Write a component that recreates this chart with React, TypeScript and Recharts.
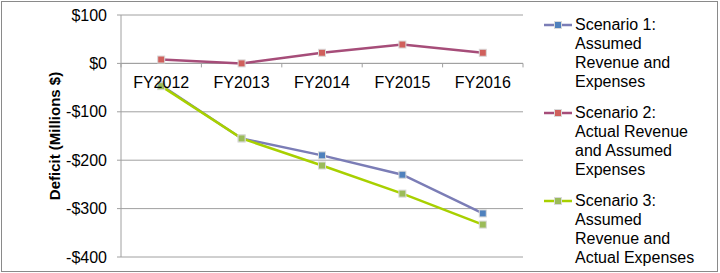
import React from 'react';
import {
  LineChart,
  Line,
  XAxis,
  YAxis,
  CartesianGrid,
  ReferenceLine,
  Legend,
  Label,
} from 'recharts';

const years = ['FY2012', 'FY2013', 'FY2014', 'FY2015', 'FY2016'];
const scenario1 = [-45, -155, -190, -230, -310];
const scenario2 = [8, 0, 22, 39, 22];
const scenario3 = [-47, -155, -211, -269, -333];
const yTicks = [-400, -300, -200, -100, 0, 100];

const legendLines = [
  ['Scenario 1:', 'Assumed', 'Revenue and', 'Expenses'],
  ['Scenario 2:', 'Actual Revenue', 'and Assumed', 'Expenses'],
  ['Scenario 3:', 'Assumed', 'Revenue and', 'Actual Expenses'],
];

const SERIES = [
  { key: 's1', line: '#7b7db6', marker: '#4f81bd' },
  { key: 's2', line: '#a64d79', marker: '#d0605c' },
  { key: 's3', line: '#a8d000', marker: '#9bbb59' },
];

const data = years.map((year, i) => ({
  year,
  s1: scenario1[i],
  s2: scenario2[i],
  s3: scenario3[i],
}));

const W = 720;
const H = 273;
const X_H = 16;
const M = { top: 15, right: 197, bottom: 0, left: 0 };
const Y_W = 121;
const PLOT_W = W - M.left - Y_W - M.right;
const PLOT_H = H - M.top - M.bottom - X_H;
const HALF = PLOT_W / years.length / 2;
const Y_MIN = -400;
const Y_MAX = 100;
const ZERO_Y = M.top + (PLOT_H * Y_MAX) / (Y_MAX - Y_MIN);
const AXIS = '#a0a0a0';
const FONT = '"Liberation Sans", Arial, sans-serif';

const money = (v: number) => (v < 0 ? `-$${-v}` : `$${v}`);

const CategoryTick = (props: any) => {
  const { x, payload, index } = props;
  const last = index === years.length - 1;
  return (
    <g>
      <line x1={x - HALF} y1={ZERO_Y} x2={x - HALF} y2={ZERO_Y + 4} stroke={AXIS} />
      {last && <line x1={x + HALF} y1={ZERO_Y} x2={x + HALF} y2={ZERO_Y + 4} stroke={AXIS} />}
      <text x={x} y={ZERO_Y + 25} textAnchor="middle" fontSize={16} fill="#000">
        {payload.value}
      </text>
    </g>
  );
};

const squareDot = (color: string) => (p: any) => (
  <rect
    key={`dot-${p.index}`}
    x={p.cx - 3.5}
    y={p.cy - 3.5}
    width={7}
    height={7}
    fill={color}
    stroke="#d9d9d9"
    strokeWidth={1}
  />
);

const LegendBox = () => (
  <div style={{ fontFamily: FONT, fontSize: 16, color: '#000' }}>
    {SERIES.map((s, i) => (
      <div key={s.key} style={{ display: 'flex', marginBottom: 12 }}>
        <svg width={34} height={19} style={{ flex: 'none' }}>
          <line x1={3} y1={10} x2={31} y2={10} stroke={s.line} strokeWidth={2.5} />
          <rect x={13.5} y={6.5} width={7} height={7} fill={s.marker} stroke="#d9d9d9" />
        </svg>
        <div style={{ lineHeight: '19px' }}>
          {legendLines[i].map((t) => (
            <div key={t}>{t}</div>
          ))}
        </div>
      </div>
    ))}
  </div>
);

export default function App() {
  return (
    <div style={{ position: 'fixed', left: 0, top: 0, width: W, height: H, background: '#fff', fontFamily: FONT }}>
      <div
        style={{
          position: 'absolute',
          left: 1,
          top: 1,
          width: W - 3,
          height: H - 2,
          border: '1px solid #8a8a8a',
          boxSizing: 'border-box',
        }}
      />
      <LineChart width={W} height={H} data={data} margin={M}>
        <CartesianGrid horizontal vertical={false} stroke={AXIS} strokeWidth={1} />
        <XAxis
          dataKey="year"
          height={X_H}
          axisLine={false}
          tickLine={false}
          interval={0}
          padding={{ left: HALF, right: HALF }}
          tick={(p: any) => <CategoryTick key={`t-${p.index}`} {...p} />}
        />
        <YAxis
          width={Y_W}
          domain={[Y_MIN, Y_MAX]}
          ticks={yTicks}
          tickFormatter={money}
          axisLine={{ stroke: AXIS }}
          tickLine={{ stroke: AXIS }}
          tickSize={4}
          tickMargin={10}
          tick={{ fontSize: 16, fill: '#000' }}
        >
          <Label
            value="Deficit (Millions $)"
            angle={-90}
            position="center"
            dx={-6}
            style={{ fontSize: 15, fontWeight: 'bold', fill: '#000' }}
          />
        </YAxis>
        <ReferenceLine y={0} stroke={AXIS} />
        <Legend
          layout="vertical"
          align="center"
          verticalAlign="middle"
          wrapperStyle={{ left: 541, top: 15, width: 175 }}
          content={<LegendBox />}
        />
        {SERIES.map((s) => (
          <Line
            key={s.key}
            dataKey={s.key}
            stroke={s.line}
            strokeWidth={2.5}
            dot={squareDot(s.marker)}
            activeDot={false}
            isAnimationActive={false}
          />
        ))}
      </LineChart>
    </div>
  );
}
